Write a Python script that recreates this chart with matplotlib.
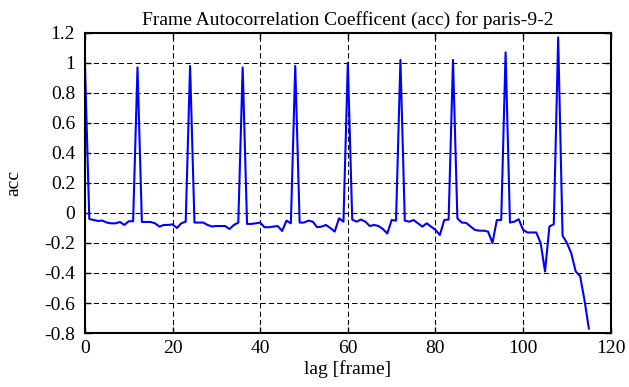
import numpy as np
import matplotlib
matplotlib.use("Agg")
import matplotlib.pyplot as plt

# acc values for lags 0..115
acc = [
    1.00, -0.04, -0.047, -0.053, -0.051, -0.064, -0.069, -0.069, -0.06, -0.08,   # 0-9
    -0.055, -0.055, 0.97, -0.06, -0.06, -0.06, -0.069, -0.091, -0.08, -0.08,     # 10-19
    -0.076, -0.10, -0.069, -0.058, 0.98, -0.064, -0.064, -0.064, -0.08, -0.09,   # 20-29
    -0.087, -0.087, -0.087, -0.107, -0.08, -0.064, 0.97, -0.073, -0.073, -0.069, # 30-39
    -0.064, -0.095, -0.095, -0.091, -0.087, -0.12, -0.051, -0.069, 0.98, -0.064, # 40-49
    -0.064, -0.051, -0.058, -0.095, -0.091, -0.08, -0.10, -0.124, -0.036, -0.058, # 50-59
    1.00, -0.044, -0.058, -0.044, -0.058, -0.087, -0.08, -0.087, -0.107, -0.137, # 60-69
    -0.047, -0.051, 1.02, -0.051, -0.058, -0.047, -0.069, -0.091, -0.069, -0.091, # 70-79
    -0.113, -0.147, -0.047, -0.044, 1.02, -0.036, -0.064, -0.066, -0.09, -0.113, # 80-89
    -0.118, -0.118, -0.124, -0.20, -0.047, -0.047, 1.07, -0.064, -0.058, -0.042, # 90-99
    -0.113, -0.13, -0.13, -0.13, -0.20, -0.39, -0.09, -0.075, 1.17, -0.15,       # 100-109
    -0.20, -0.27, -0.39, -0.42, -0.58, -0.77,                                    # 110-115
]
lag = np.arange(len(acc))

plt.rcParams["font.family"] = ["Liberation Serif", "DejaVu Serif"]

fig = plt.figure(figsize=(6.29, 3.87), dpi=100)
ax = fig.add_axes([0.135, 0.1395, 0.836, 0.7755])

ax.plot(lag, acc, color="#0000ff", lw=1.5)

ax.set_xlim(0, 120)
ax.set_ylim(-0.8, 1.2)
ax.set_xticks(np.arange(0, 121, 20))
yt = np.round(np.arange(-0.8, 1.21, 0.2), 1)
ax.set_yticks(yt)
ax.set_yticklabels(["0" if v == 0 else f"{v:g}" for v in yt])

ax.grid(True, color="black", linestyle=(0, (5, 3)), linewidth=0.75)
ax.tick_params(direction="in", top=True, right=True, length=4, width=1, labelsize=14)
ax.tick_params(axis="y", pad=7)
ax.tick_params(axis="x", pad=5)
for s in ax.spines.values():
    s.set_linewidth(1.5)

ax.set_xlabel("lag [frame]", fontsize=14, labelpad=2)
ax.set_ylabel("acc", fontsize=14, labelpad=16)
ax.set_title("Frame Autocorrelation Coefficent (acc) for paris-9-2", fontsize=14, pad=6)

fig.savefig("out.png", dpi=100)
